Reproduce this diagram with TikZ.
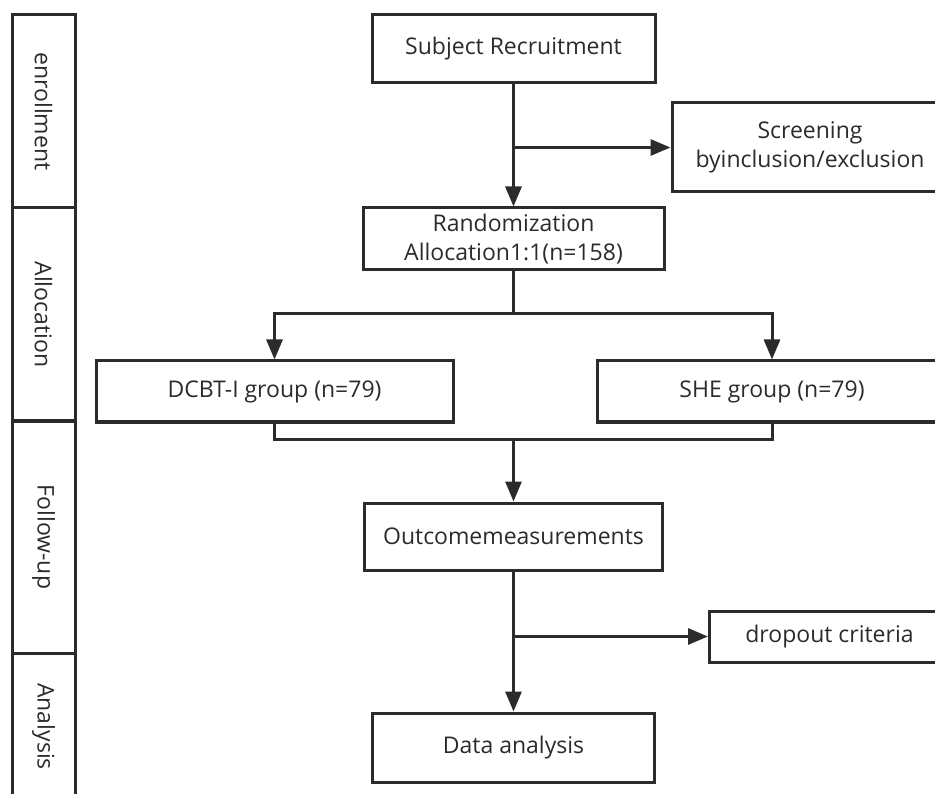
\documentclass[tikz,border=0pt]{standalone}
\usepackage{fontspec}
\setmainfont{Open Sans}
\usetikzlibrary{arrows.meta}
\definecolor{ink}{HTML}{2B2B2B}
\tikzstyle{stepbox} = [rectangle, 
draw=ink, 
line width=3pt, 
text=ink, 
align=center, 
inner sep=0pt, 
font=\fontsize{23}{29}\selectfont]
\tikzstyle{phase} = [rectangle, 
draw=ink, 
line width=3pt, 
text=ink, 
rotate=-90, 
minimum height=63pt, 
inner sep=0pt, 
font=\fontsize{23}{29}\selectfont]
\tikzstyle{line} = [draw=ink, line width=3pt]
\tikzstyle{arrow} = [line, -{Triangle[length=20pt,width=16pt]}]

\begin{document}
\begin{tikzpicture}[x=1pt, y=1pt, node distance=100pt]
\useasboundingbox (0,0) rectangle (935,-794);

% phases on the left
\node (enrol) [phase, minimum width=193pt] at (43.5,-111.5) {enrollment};
\node (alloc) [phase, minimum width=213pt] at (43.5,-314.5) {Allocation};
\node (follow) [phase, minimum width=232pt] at (43.5,-537) {Follow-up};
\node (analys) [phase, minimum width=147pt] at (43.5,-726.5) {Analysis};

\node (start) [stepbox, minimum width=283pt, minimum height=68pt] at (513.5,-49) {Subject Recruitment};
\node (screen) [stepbox, right of=start, xshift=196.5pt, yshift=-98.5pt, minimum width=276pt, minimum height=89pt] {Screening\\byinclusion/exclusion};
\node (rand) [stepbox, below of=start, yshift=-90pt, minimum width=301pt, minimum height=62pt] {Randomization\\Allocation1:1(n=158)};

\node (dcbt) [stepbox, below of=rand, xshift=-239pt, yshift=-52.5pt, minimum width=357pt, minimum height=61pt] {DCBT-I group (n=79)};
\node (she) [stepbox, below of=rand, xshift=258.5pt, yshift=-52.5pt, minimum width=350pt, minimum height=61pt] {SHE group (n=79)};

\node (outcome) [stepbox, below of=rand, yshift=-197.5pt, minimum width=298pt, minimum height=67pt] {Outcomemeasurements};
\node (dropout) [stepbox, right of=outcome, xshift=216pt, yshift=-100pt, minimum width=240pt, minimum height=51pt] {dropout criteria};
\node (data) [stepbox, below of=outcome, yshift=-111pt, minimum width=282pt, minimum height=69pt] {Data analysis};

\coordinate (b1) at (start.south |- screen.west);
\coordinate (b2) at (outcome.south |- dropout.west);
\path (rand.south) ++(0,-42) coordinate (split);
\path (outcome.north) ++(0,62) coordinate (merge);

\draw [arrow] (start) -- (rand);
\draw [arrow] (b1) -- (screen);
\draw [arrow] (split) -| (dcbt);
\draw [arrow] (split) -| (she);
\draw [line] (rand) -- (split);
\draw [line] (dcbt) |- (merge) -| (she);
\draw [arrow] (merge) -- (outcome);
\draw [arrow] (outcome) -- (data);
\draw [arrow] (b2) -- (dropout);

\end{tikzpicture}
\end{document}
